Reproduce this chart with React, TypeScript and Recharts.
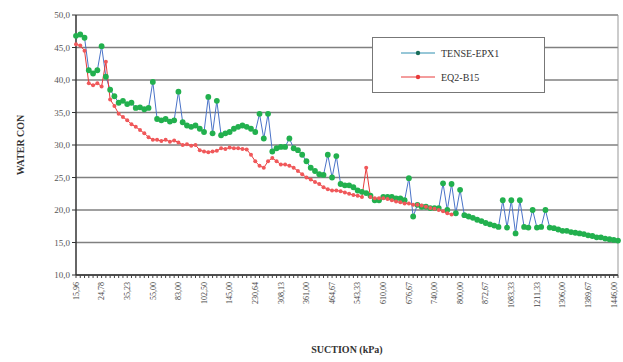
import React from 'react';
import { LineChart, Line, XAxis, YAxis, CartesianGrid, ReferenceLine } from 'recharts';

const suctionLabels = ['15,96','24,78','35,23','55,00','83,00','102,50','145,00','230,64','308,13','361,00','464,67','543,33','610,00','676,67','740,00','800,00','872,67','1083,33','1211,33','1306,00','1389,67','1446,00'];

const tenseEpx1 = [
  46.8, 47, 46.5, 41.5, 41, 41.5, 45.2, 40.5, 38.5, 37.5,
  36.5, 36.8, 36.3, 36.5, 35.7, 35.8, 35.5, 35.7, 39.7, 34,
  33.8, 34, 33.6, 33.8, 38.2, 33.5, 33, 32.8, 33, 32.5,
  32, 37.4, 31.8, 36.8, 31.5, 31.8, 32, 32.5, 32.8, 33,
  32.8, 32.5, 32, 34.8, 31, 34.8, 29, 29.5, 29.7, 29.7,
  31, 29.5, 29.2, 28.5, 27.5, 26.5, 26, 25.5, 25.4, 28.5,
  25, 28.3, 24, 23.8, 23.8, 23.5, 23, 22.8, 22.6, 22.2,
  21.5, 21.5, 22, 22, 22, 21.8, 21.8, 21.5, 24.9, 19,
  20.8, 20.5, 20.5, 20.3, 20.3, 20.3, 24.1, 20, 24, 19.5,
  23.1, 19.2, 19, 18.8, 18.5, 18.3, 18, 17.8, 17.6, 17.4,
  21.5, 17.3, 21.5, 16.4, 21.5, 17.4, 17.3, 20, 17.3, 17.4,
  20, 17.3, 17.2, 17, 16.8, 16.8, 16.6, 16.5, 16.4, 16.3,
  16.1, 16, 15.8, 15.8, 15.6, 15.5, 15.4, 15.3,
];

const eq2B15 = [
  45.5, 45.3, 44.5, 39.5, 39.2, 39.5, 39, 42.8, 37, 36,
  34.8, 34.3, 33.8, 33.2, 32.8, 32.3, 31.8, 31.2, 30.8, 30.8,
  30.6, 30.8, 30.5, 30.7, 30.4, 30, 30.1, 29.9, 30, 29.2,
  29, 28.9, 29, 29.1, 29.5, 29.4, 29.6, 29.5, 29.5, 29.4,
  29.3, 28.5, 27.5, 26.8, 26.5, 27.5, 28, 27.5, 27, 27,
  26.8, 26.5, 26, 25.5, 25, 24.7, 24.3, 24, 23.5, 23.2,
  23, 23, 22.9, 22.7, 22.5, 22.3, 22.2, 22, 26.5, 22,
  21.8, 21.8, 21.8, 21.7, 21.5, 21.3, 21.2, 21, 21, 20.8,
  20.8, 20.7, 20.5, 20.3, 20.2, 20, 19.8, 19.5, 19.3,
];

const yTicks = [10, 15, 20, 25, 30, 35, 40, 45, 50];
const LABEL_EVERY = 6;

const data = tenseEpx1.map((g, i) => ({
  idx: i,
  tense: g,
  eq2: i < eq2B15.length ? eq2B15[i] : null,
}));

const SERIF = '"Liberation Serif", "DejaVu Serif", serif';

const XTick = (props: any) => {
  const { x, y, payload } = props;
  const i = payload.value as number;
  if (i % LABEL_EVERY !== 0) return null;
  const label = suctionLabels[i / LABEL_EVERY];
  return (
    <text
      x={x}
      y={y + 2}
      transform={`rotate(-90, ${x}, ${y + 2})`}
      textAnchor="end"
      dy="0.35em"
      fontSize={8}
      fill="#444"
      fontFamily={SERIF}
    >
      {label}
    </text>
  );
};

const legendItems = [
  { name: 'TENSE-EPX1', line: '#2f8fb0', dot: '#1a6e5a', top: 15 },
  { name: 'EQ2-B15', line: '#e83a3a', dot: '#e83a3a', top: 39 },
];

const LegendBox = () => (
  <div
    style={{
      position: 'absolute',
      left: 372,
      top: 37,
      width: 173,
      height: 56,
      border: '1px solid #777',
      background: '#fff',
      fontFamily: SERIF,
      fontSize: 10,
      color: '#333',
      boxSizing: 'border-box',
    }}
  >
    {legendItems.map((e) => (
      <div key={e.name} style={{ position: 'absolute', left: 28, top: e.top - 7, display: 'flex', alignItems: 'center', height: 14 }}>
        <svg width={34} height={10}>
          <line x1={0} y1={5} x2={34} y2={5} stroke={e.line} strokeWidth={1} />
          <circle cx={17} cy={5} r={2.2} fill={e.dot} />
        </svg>
        <span style={{ marginLeft: 6 }}>{e.name}</span>
      </div>
    ))}
  </div>
);

const GreenDot = (props: any) => {
  const { cx, cy } = props;
  if (cx == null || cy == null) return null;
  return <circle cx={cx} cy={cy} r={2.9} fill="#22b04e" stroke="none" />;
};

const RedDot = (props: any) => {
  const { cx, cy } = props;
  if (cx == null || cy == null) return null;
  return <circle cx={cx} cy={cy} r={2} fill="#f0585a" stroke="none" />;
};

export default function App() {
  return (
    <div style={{ position: 'absolute', left: 0, top: 0, width: 623, height: 362, background: '#fff' }}>
      <LineChart
        width={623}
        height={362}
        data={data}
        margin={{ top: 15, right: 5, left: 0, bottom: 0 }}
      >
        <CartesianGrid horizontal vertical={false} stroke="#808080" strokeWidth={1.6} />
        <XAxis
          dataKey="idx"
          type="category"
          interval={0}
          height={87}
          tick={<XTick />}
          tickSize={3}
          tickLine={{ stroke: '#444' }}
          axisLine={{ stroke: '#333', strokeWidth: 1.5 }}
          label={{ value: 'SUCTION (kPa)', position: 'insideBottom', offset: 9, style: { fontFamily: SERIF, fontWeight: 'bold', fontSize: 10, fill: '#333' } }}
        />
        <YAxis
          width={76}
          domain={[10, 50]}
          ticks={yTicks}
          interval={0}
          allowDataOverflow
          tickFormatter={(v: number) => v.toFixed(1).replace('.', ',')}
          tick={{ fontSize: 9, fill: '#555', fontFamily: SERIF }}
          tickSize={4}
          tickLine={{ stroke: '#333' }}
          axisLine={{ stroke: '#333', strokeWidth: 1.5 }}
          label={{ value: 'WATER CON', angle: -90, position: 'insideLeft', offset: 20, style: { fontFamily: SERIF, fontWeight: 'bold', fontSize: 10, fill: '#333', textAnchor: 'middle' } }}
        />
        <ReferenceLine x={data.length - 1} stroke="#999" strokeWidth={1} />
        <Line
          name="TENSE-EPX1"
          type="linear"
          dataKey="tense"
          stroke="#4a73c8"
          strokeWidth={1}
          dot={<GreenDot />}
          isAnimationActive={false}
        />
        <Line
          name="EQ2-B15"
          type="linear"
          dataKey="eq2"
          stroke="#e83a3a"
          strokeWidth={1}
          dot={<RedDot />}
          connectNulls={false}
          isAnimationActive={false}
        />
      </LineChart>
      <LegendBox />
    </div>
  );
}
